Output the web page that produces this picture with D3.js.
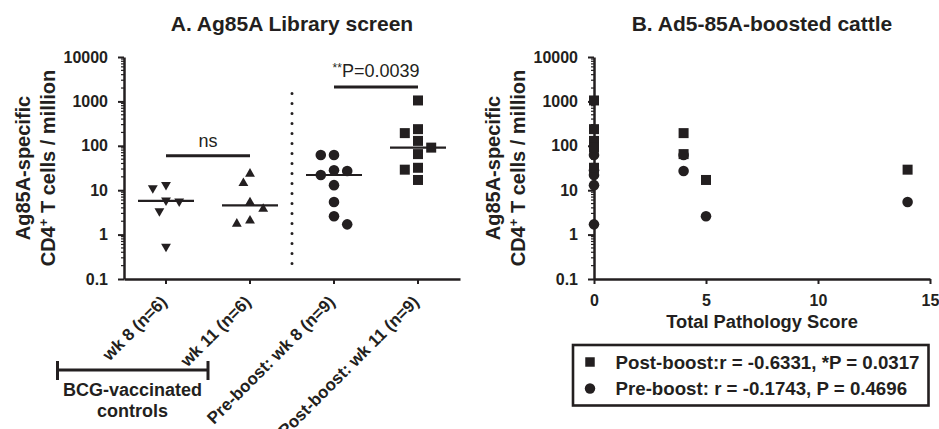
<!DOCTYPE html>
<html><head><meta charset="utf-8">
<script src="https://cdn.jsdelivr.net/npm/d3@7"></script>
<style>
body{margin:0;background:#fff}
svg{display:block}
text{font-family:"Liberation Sans",Arial,Helvetica,sans-serif;fill:#231f20}
</style>
</head><body><svg id="c" width="939" height="429"></svg>
<script>
// ---------- data ----------
const categoriesA = ["wk 8 (n=6)", "wk 11 (n=6)", "Pre-boost: wk 8 (n=9)", "Post-boost: wk 11 (n=9)"];
const bcgWk8 = [13.2, 11.1, 5.9, 5.6, 3.4, 0.54];
const bcgWk11 = [23.4, 14.4, 5.3, 3.8, 2.05, 1.75];
const preBoost = [62, 62, 28, 27, 22, 13, 5.4, 2.6, 1.7];
const postBoost = [1050, 237, 193, 129, 91, 65, 32, 29, 17];
const preScore = [0, 4, 0, 4, 0, 0, 14, 5, 0];
const postScore = [0, 0, 4, 0, 0, 4, 0, 14, 5];
const yTickValues = [0.1, 1, 10, 100, 1000, 10000];
const yTickLabels = ["0.1", "1", "10", "100", "1000", "10000"];
const xTickValuesB = [0, 5, 10, 15];
const nsLevel = 60, pLevel = 2100;
const nsText = "ns", pText = "P=0.0039", pStars = "**";
const legendLabels = ["Post-boost:r = -0.6331, *P = 0.0317", "Pre-boost: r = -0.1743, P = 0.4696"];

// ---------- setup ----------
const svg = d3.select("#c");
const ink = "#231f20";
const groupsA = [
  {vals: bcgWk8, shape: "down"},
  {vals: bcgWk11, shape: "up"},
  {vals: preBoost, shape: "circle"},
  {vals: postBoost, shape: "square"}
];
const symPath = {
  down: d3.symbol(d3.symbolTriangle, 42)(),
  up: d3.symbol(d3.symbolTriangle, 42)(),
  circle: d3.symbol(d3.symbolCircle, 88)(),
  square: d3.symbol(d3.symbolSquare, 100)()
};
const minorTicks = [];
for (let k = -1; k < 4; k++) for (let m = 2; m <= 9; m++) minorTicks.push(m * Math.pow(10, k));

function swarm(vals, y, step, D) {
  const idx = d3.range(vals.length).sort((a, b) => vals[b] - vals[a]);
  const pts = [], off = new Array(vals.length);
  let pref = -1;
  for (const i of idx) {
    const py = y(vals[i]);
    const cands = [0];
    for (let k = 1; k < 10; k++) cands.push(pref * k * step, -pref * k * step);
    for (const c of cands) {
      if (pts.every(p => Math.hypot(p.x - c, p.y - py) >= D)) {
        off[i] = c; if (c !== 0) pref = c > 0 ? -1 : 1; break;
      }
    }
    pts.push({x: off[i], y: py});
  }
  return off;
}

function yAxisLog(g, y) {
  g.call(d3.axisLeft(y).tickValues(yTickValues).tickFormat((d, i) => yTickLabels[i]).tickSize(6).tickPadding(10).tickSizeOuter(0));
  g.select(".domain").attr("stroke", ink).attr("stroke-width", 2.5);
  g.selectAll(".tick line").attr("stroke", ink).attr("stroke-width", 2);
  g.selectAll(".tick text").attr("font-size", 16).attr("font-weight", "bold").attr("fill", ink);
  const mg = g.append("g");
  mg.selectAll("line").data(minorTicks).join("line")
    .attr("x1", -3).attr("x2", 0).attr("y1", d => y(d)).attr("y2", d => y(d))
    .attr("stroke", ink).attr("stroke-width", 1.2);
}

function yLabel(axisX, cy) {
  const t = svg.append("g").attr("transform", `translate(${axisX},${cy}) rotate(-90)`);
  t.append("text").attr("x", 0).attr("y", -94).attr("text-anchor", "middle")
    .attr("font-size", 20).attr("font-weight", "bold").text("Ag85A-specific");
  const l2 = t.append("text").attr("x", 0).attr("y", -69).attr("text-anchor", "middle")
    .attr("font-size", 20).attr("font-weight", "bold");
  l2.append("tspan").text("CD4");
  l2.append("tspan").attr("font-size", 13).attr("baseline-shift", "55%").text("+");
  l2.append("tspan").text(" T cells / million");
}

// ---------- Panel A ----------
const xA = d3.scaleBand().domain(categoriesA).range([124, 460]).padding(0);
const yA = d3.scaleLog().domain([0.1, 10000]).range([279, 57]);

svg.append("text").attr("x", (124 + 460) / 2).attr("y", 31).attr("text-anchor", "middle")
  .attr("font-size", 21).attr("font-weight", "bold").text("A. Ag85A Library screen");

const gxA = svg.append("g").attr("transform", "translate(0,279)")
  .call(d3.axisBottom(xA).tickSize(5).tickSizeOuter(0));
gxA.select(".domain").attr("stroke", ink).attr("stroke-width", 2.5);
gxA.selectAll(".tick line").attr("stroke", ink).attr("stroke-width", 2);
gxA.selectAll(".tick text").attr("x", 0).attr("y", 0).attr("dy", 0)
  .attr("text-anchor", "end").attr("transform", "translate(2,24) rotate(-45)")
  .attr("font-size", 17).attr("font-weight", "bold").attr("fill", ink);

yAxisLog(svg.append("g").attr("transform", "translate(124,0)"), yA);
yLabel(124, 168);

// dotted separator
svg.append("line").attr("x1", xA(categoriesA[2])).attr("x2", xA(categoriesA[2]))
  .attr("y1", yA(1500)).attr("y2", yA(0.2))
  .attr("stroke", ink).attr("stroke-width", 3).attr("stroke-linecap", "round")
  .attr("stroke-dasharray", "0,10");

groupsA.forEach((g, gi) => {
  const cx = xA(categoriesA[gi]) + xA.bandwidth() / 2;
  const off = swarm(g.vals, yA, 6.6, 11);
  svg.append("g").selectAll("path").data(g.vals).join("path")
    .attr("d", symPath[g.shape])
    .attr("transform", (d, i) => `translate(${cx + off[i]},${yA(d)})${g.shape === "down" ? " rotate(180)" : ""}`)
    .attr("fill", ink);
  const med = d3.median(g.vals);
  svg.append("line").attr("x1", cx - 28).attr("x2", cx + 28)
    .attr("y1", yA(med)).attr("y2", yA(med)).attr("stroke", ink).attr("stroke-width", 2.2);
});

// significance bars
function sigBar(c1, c2, level, gap) {
  const x1 = xA(c1) + xA.bandwidth() / 2, x2 = xA(c2) + xA.bandwidth() / 2;
  svg.append("line").attr("x1", x1).attr("x2", x2).attr("y1", yA(level)).attr("y2", yA(level))
    .attr("stroke", ink).attr("stroke-width", 3);
  return {cx: (x1 + x2) / 2, y: yA(level) - gap};
}
const s1 = sigBar(categoriesA[0], categoriesA[1], nsLevel, 9);
svg.append("text").attr("x", s1.cx).attr("y", s1.y).attr("text-anchor", "middle")
  .attr("font-size", 18).text(nsText);
const s2 = sigBar(categoriesA[2], categoriesA[3], pLevel, 10);
const pt = svg.append("text").attr("x", s2.cx).attr("y", s2.y).attr("text-anchor", "middle").attr("font-size", 18);
pt.append("tspan").attr("font-size", 12).attr("baseline-shift", "45%").text(pStars);
pt.append("tspan").attr("baseline-shift", "0").text(pText);

// BCG bracket
const bracket = svg.append("g").attr("stroke", ink).attr("stroke-width", 3);
bracket.append("line").attr("x1", 57.5).attr("x2", 208).attr("y1", 370).attr("y2", 370);
bracket.append("line").attr("x1", 57.5).attr("x2", 57.5).attr("y1", 361).attr("y2", 380);
bracket.append("line").attr("x1", 208).attr("x2", 208).attr("y1", 361).attr("y2", 380);
svg.append("text").attr("x", 132.5).attr("y", 396).attr("text-anchor", "middle")
  .attr("font-size", 18).attr("font-weight", "bold").text("BCG-vaccinated");
svg.append("text").attr("x", 132.5).attr("y", 417).attr("text-anchor", "middle")
  .attr("font-size", 18).attr("font-weight", "bold").text("controls");

// ---------- Panel B ----------
const xB = d3.scaleLinear().domain([0, 15]).range([594, 930]);
const yB = d3.scaleLog().domain([0.1, 10000]).range([279, 57]);

svg.append("text").attr("x", (594 + 930) / 2).attr("y", 31).attr("text-anchor", "middle")
  .attr("font-size", 21).attr("font-weight", "bold").text("B. Ad5-85A-boosted cattle");

const gxB = svg.append("g").attr("transform", "translate(0,279)")
  .call(d3.axisBottom(xB).tickValues(xTickValuesB).tickFormat(d3.format("d")).tickSize(5).tickPadding(11).tickSizeOuter(0));
gxB.select(".domain").attr("stroke", ink).attr("stroke-width", 2.5);
gxB.selectAll(".tick line").attr("stroke", ink).attr("stroke-width", 2);
gxB.selectAll(".tick text").attr("font-size", 16).attr("font-weight", "bold").attr("fill", ink);

yAxisLog(svg.append("g").attr("transform", "translate(594,0)"), yB);
yLabel(594, 168);

svg.append("text").attr("x", (594 + 930) / 2).attr("y", 328).attr("text-anchor", "middle")
  .attr("font-size", 18.3).attr("font-weight", "bold").text("Total Pathology Score");

svg.append("g").selectAll("path").data(preBoost).join("path")
  .attr("d", symPath.circle)
  .attr("transform", (d, i) => `translate(${xB(preScore[i])},${yB(d)})`).attr("fill", ink);
svg.append("g").selectAll("path").data(postBoost).join("path")
  .attr("d", symPath.square)
  .attr("transform", (d, i) => `translate(${xB(postScore[i])},${yB(d)})`).attr("fill", ink);

// legend
const lg = svg.append("g");
lg.append("rect").attr("x", 573).attr("y", 345).attr("width", 355.5).attr("height", 60.5)
  .attr("fill", "none").attr("stroke", ink).attr("stroke-width", 2.6);
[symPath.square, symPath.circle].forEach((p, i) => {
  lg.append("path").attr("d", d3.symbol(i === 0 ? d3.symbolSquare : d3.symbolCircle, i === 0 ? 90 : 85)())
    .attr("transform", `translate(590,${362 + i * 26.5})`).attr("fill", ink);
  lg.append("text").attr("x", 615.5).attr("y", 368.5 + i * 26.5)
    .attr("font-size", 18.7).attr("font-weight", "bold").text(legendLabels[i]);
});
</script>
</body></html>
